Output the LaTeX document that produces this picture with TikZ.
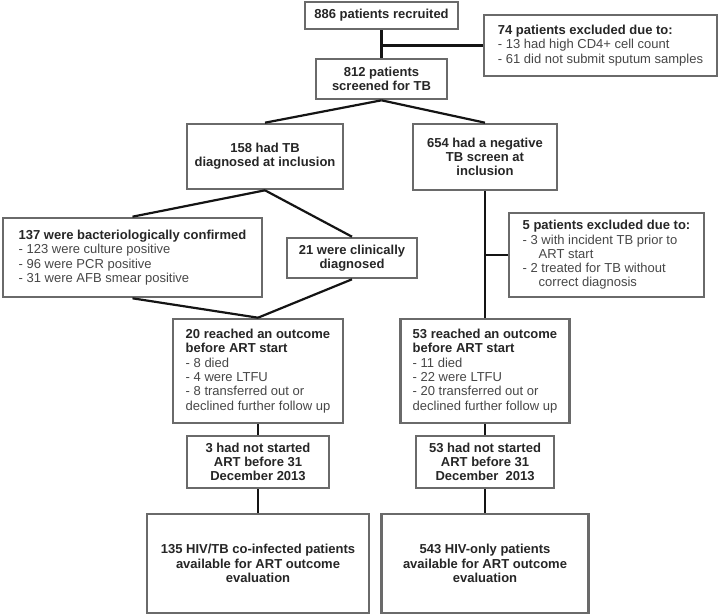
\documentclass[tikz,border=0pt]{standalone}
\usepackage{fontspec}
\setmainfont{Liberation Sans}
\definecolor{boxgray}{HTML}{6A6A6A}
\definecolor{txtdark}{HTML}{262626}
\definecolor{txtlight}{HTML}{474747}
\newcommand\diagfont{\fontsize{13}{14.3}\selectfont}
\newcommand\itm[1]{{\mdseries\color{txtlight}#1}}
\begin{document}
\begin{tikzpicture}[x=1pt,y=-1pt,
  box/.style={draw=boxgray, line width=2.6pt, fill=white, inner xsep=3pt, inner ysep=2pt, text=txtdark},
  cbox/.style={box, align=center, font=\diagfont\bfseries},
  lbox/.style={box, align=left, font=\diagfont},
  conn/.style={draw=black!92, line width=2.2pt},
]
\useasboundingbox (0,0) rectangle (720,614);

\node[cbox, minimum width=153pt, minimum height=27pt] (n886) at (381.5,15.5) {886 patients recruited};
\node[lbox, minimum width=233pt, minimum height=61pt] (n74) at (600.5,45.5)
  {\textbf{74 patients excluded due to:}\\ \itm{- 13 had high CD4+ cell count}\\ \itm{- 61 did not submit sputum samples}};
\node[cbox, minimum width=131pt, minimum height=40pt] (n812) at (381.5,79) {812 patients\\screened for TB};
\node[cbox, minimum width=156pt, minimum height=65pt] (n158) at (265,156.5) {158 had TB\\diagnosed at inclusion};
\node[cbox, minimum width=144pt, minimum height=66pt] (n654) at (485,157) {654 had a negative\\TB screen at\\inclusion};
\node[lbox, minimum width=259pt, minimum height=79pt] (n137) at (132.5,257.5)
  {\textbf{137 were bacteriologically confirmed}\\ \itm{- 123 were culture positive}\\ \itm{- 96 were PCR positive}\\ \itm{- 31 were AFB smear positive}};
\node[cbox, minimum width=130pt, minimum height=40pt] (n21) at (352,258) {21 were clinically\\diagnosed};
\node[lbox, minimum width=195pt, minimum height=84pt] (n5) at (606.5,255)
  {\textbf{5 patients excluded due to:}\\ \itm{- 3 with incident TB prior to}\\ \itm{\hspace*{16pt}ART start}\\ \itm{- 2 treated for TB without}\\ \itm{\hspace*{16pt}correct diagnosis}};
\node[lbox, minimum width=170pt, minimum height=104pt] (n20) at (258,371)
  {\textbf{20 reached an outcome}\\ \textbf{before ART start}\\ \itm{- 8 died}\\ \itm{- 4 were LTFU}\\ \itm{- 8 transferred out or}\\ \itm{declined further follow up}};
\node[lbox, minimum width=169pt, minimum height=104pt] (n53r) at (485,371)
  {\textbf{53 reached an outcome}\\ \textbf{before ART start}\\ \itm{- 11 died}\\ \itm{- 22 were LTFU}\\ \itm{- 20 transferred out or}\\ \itm{declined further follow up}};
\node[cbox, minimum width=142pt, minimum height=52pt] (n3) at (258,462) {3 had not started\\ART before 31\\December 2013};
\node[cbox, minimum width=138pt, minimum height=52pt] (n53n) at (485,462) {53 had not started\\ART before 31\\December\ \ 2013};
\node[cbox, minimum width=222pt, minimum height=99pt] (nTB) at (258,563.5) {135 HIV/TB co-infected patients\\available for ART outcome\\evaluation};
\node[cbox, minimum width=207pt, minimum height=99pt] (nHIV) at (485,563.5) {543 HIV-only patients\\available for ART outcome\\evaluation};

\coordinate (j74) at (n886.south |- n74.west);
\coordinate (j5) at (n654.south |- n5.west);
\draw[conn] (n886.south) -- (n812.north);
\draw[conn] (j74) -- (n74.west);
\draw[conn] (n812.south) -- (n158.north);
\draw[conn] (n812.south) -- (n654.north);
\draw[conn] (n158.south) -- (n137.north);
\draw[conn] (n158.south) -- (n21.north);
\draw[conn] (n137.south) -- (n20.north);
\draw[conn] (n21.south) -- (n20.north);
\draw[conn] (n654.south) -- (n53r.north);
\draw[conn] (j5) -- (n5.west);
\draw[conn] (n20.south) -- (n3.north);
\draw[conn] (n3.south) -- (nTB.north);
\draw[conn] (n53r.south) -- (n53n.north);
\draw[conn] (n53n.south) -- (nHIV.north);
\end{tikzpicture}
\end{document}
